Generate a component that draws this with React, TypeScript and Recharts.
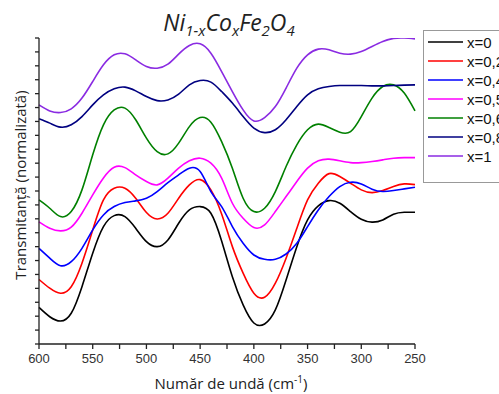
import { LineChart, Line, XAxis, YAxis, Label } from "recharts";

// numar de unda (cm-1), de la 600 la 250
const NUMAR_UNDA = [
  600, 590, 580, 570, 560, 550, 540, 530, 520, 510, 500, 490, 480, 470, 460, 450, 440, 430,
  420, 410, 400, 390, 380, 370, 360, 350, 340, 330, 320, 310, 300, 290, 280, 270, 260, 250,
];

// transmitanta normalizata (unitati arbitrare, deplasate pe verticala)
const X_0 = [
  2.63, 1.96, 1.65, 2.21, 4.12, 6.53, 8.44, 9.23, 9.16, 8.32, 7.36, 7.0, 7.48, 8.68, 9.64, 9.88, 9.4, 7.41,
  4.84, 2.81, 1.51, 1.44, 2.45, 4.6, 7.0, 8.92, 9.93, 10.31, 10.12, 9.52, 8.97, 8.76, 8.92, 9.33, 9.47, 9.47,
];
const X_02 = [
  4.64, 4.01, 3.65, 4.12, 5.81, 8.2, 10.36, 11.2, 11.2, 10.48, 9.45, 8.99, 9.4, 10.48, 11.44, 11.82, 11.08, 9.35,
  7.0, 5.09, 3.65, 3.36, 4.37, 6.17, 8.32, 10.36, 11.56, 12.25, 12.04, 11.56, 11.08, 10.88, 11.03, 11.32, 11.51, 11.46,
];
const X_04 = [
  6.88, 6.17, 5.63, 5.92, 6.88, 8.2, 9.28, 9.88, 10.17, 10.29, 10.48, 10.96, 11.6, 12.16, 12.64, 12.4, 10.96, 9.88,
  8.44, 7.24, 6.4, 6.09, 6.09, 6.47, 7.24, 8.44, 9.64, 10.6, 11.32, 11.63, 11.51, 11.13, 10.96, 11.03, 11.15, 11.27,
];
const X_05 = [
  8.78, 8.32, 8.13, 8.4, 9.4, 10.72, 11.94, 12.71, 12.68, 12.16, 11.68, 11.44, 11.92, 12.64, 13.17, 13.36, 13.0, 11.92,
  10.12, 9.04, 8.37, 8.56, 9.52, 10.6, 11.68, 12.64, 13.17, 13.29, 13.17, 13.04, 13.04, 13.12, 13.24, 13.36, 13.4, 13.4,
];
const X_06 = [
  10.36, 9.76, 9.16, 9.52, 11.08, 13.6, 15.76, 16.83, 16.96, 16.12, 14.8, 13.83, 13.67, 14.44, 15.63, 16.28, 15.95, 14.55,
  12.64, 10.48, 9.52, 9.76, 10.96, 12.76, 14.32, 15.4, 15.81, 15.56, 15.23, 15.27, 16.35, 17.68, 18.51, 18.63, 18.04, 16.76,
];
const X_08 = [
  16.19, 15.88, 15.59, 15.76, 16.35, 17.19, 17.91, 18.35, 18.47, 18.2, 17.79, 17.5, 17.55, 17.96, 18.63, 18.94, 18.83, 18.15,
  17.32, 16.35, 15.52, 15.2, 15.4, 16.12, 17.07, 17.91, 18.35, 18.51, 18.58, 18.58, 18.58, 18.56, 18.56, 18.58, 18.61, 18.63,
];
const X_1 = [
  17.19, 16.76, 16.64, 16.91, 17.68, 18.87, 20.07, 20.79, 20.86, 20.43, 19.95, 19.83, 20.12, 20.84, 21.46, 21.58, 20.91, 19.59,
  18.15, 16.83, 16.04, 16.28, 17.07, 18.4, 19.83, 20.79, 21.2, 21.15, 20.91, 20.84, 21.03, 21.39, 21.75, 21.97, 22.0, 21.94,
];

const SERII = [
  { key: "x0", nume: "x=0", culoare: "#000000", valori: X_0 },
  { key: "x02", nume: "x=0,2", culoare: "#ff0000", valori: X_02 },
  { key: "x04", nume: "x=0,4", culoare: "#0000ff", valori: X_04 },
  { key: "x05", nume: "x=0,5", culoare: "#ff00ff", valori: X_05 },
  { key: "x06", nume: "x=0,6", culoare: "#008000", valori: X_06 },
  { key: "x08", nume: "x=0,8", culoare: "#000080", valori: X_08 },
  { key: "x1", nume: "x=1", culoare: "#8a2be2", valori: X_1 },
];

const TICKS_X = [600, 575, 550, 525, 500, 475, 450, 425, 400, 375, 350, 325, 300, 275, 250];
const TICKS_Y = Array.from({ length: 23 }, (_, i) => i);

const date = NUMAR_UNDA.map((w, i) => {
  const rand: Record<string, number> = { w };
  SERII.forEach((s) => (rand[s.key] = s.valori[i]));
  return rand;
});

const FONT_TITLU = "'Open Sans', sans-serif";
const FONT_TICK = "'Liberation Sans', Arial, sans-serif";

function TitluX(props: any) {
  const vb = props.viewBox || { x: 39, y: 344, width: 376, height: 50 };
  const cx = vb.x + vb.width / 2 + 4;
  return (
    <text x={cx} y={389} textAnchor="middle" fontFamily={FONT_TITLU} fontSize={15} fill="#222">
      <tspan>Număr de undă (cm</tspan>
      <tspan dy={-6} fontSize={10}>-1</tspan>
      <tspan dy={6}>)</tspan>
    </text>
  );
}

function TitluY(props: any) {
  const vb = props.viewBox || { x: 0, y: 38, width: 39, height: 306 };
  const cx = 20;
  const cy = vb.y + vb.height / 2 - 6;
  return (
    <text
      x={cx}
      y={cy}
      transform={`rotate(-90 ${cx} ${cy})`}
      textAnchor="middle"
      dominantBaseline="central"
      fontFamily={FONT_TITLU}
      fontSize={15}
      fill="#222"
    >
      Transmitanță (normalizată)
    </text>
  );
}

function FaraEticheta() {
  return <g />;
}

export default function App() {
  return (
    <div
      style={{
        position: "absolute",
        left: 0,
        top: 0,
        width: 499,
        height: 394,
        overflow: "hidden",
        background: "#fff",
      }}
    >
      <LineChart
        width={499}
        height={394}
        data={date}
        margin={{ top: 38, right: 84, bottom: 0, left: 0 }}
      >
        <XAxis
          dataKey="w"
          type="number"
          domain={[250, 600]}
          reversed
          ticks={TICKS_X}
          interval={0}
          tickFormatter={(v: number) => (v % 50 === 0 ? String(v) : "")}
          height={50}
          stroke="#222"
          strokeWidth={1.3}
          tickSize={5}
          tickMargin={5}
          tick={{ fontFamily: FONT_TICK, fontSize: 13, fill: "#333" }}
        >
          <Label content={TitluX} />
        </XAxis>
        <YAxis
          type="number"
          domain={[0, 22]}
          allowDataOverflow
          ticks={TICKS_Y}
          interval={0}
          width={39}
          stroke="#222"
          strokeWidth={1.3}
          tickSize={4}
          tick={FaraEticheta}
        >
          <Label content={TitluY} />
        </YAxis>

        {SERII.map((s) => (
          <Line
            key={s.key}
            dataKey={s.key}
            name={s.nume}
            type="natural"
            stroke={s.culoare}
            strokeWidth={1.6}
            dot={false}
            activeDot={false}
            isAnimationActive={false}
          />
        ))}

        {/* TITLU */}
        <text x={229} y={31} textAnchor="middle" fontFamily={FONT_TITLU} fontStyle="italic" fontSize={23} fill="#222">
          <tspan>Ni</tspan>
          <tspan dy={5} fontSize={15}>1-x</tspan>
          <tspan dy={-5}>Co</tspan>
          <tspan dy={5} fontSize={15}>x</tspan>
          <tspan dy={-5}>Fe</tspan>
          <tspan dy={5} fontSize={15}>2</tspan>
          <tspan dy={-5}>O</tspan>
          <tspan dy={5} fontSize={15}>4</tspan>
        </text>

        {/* LEGENDA */}
        <g>
          <rect x={423.5} y={30.5} width={100} height={152} fill="#fff" stroke="#999" />
          {SERII.map((s, i) => {
            const y = 42 + i * 19;
            return (
              <g key={s.key}>
                <line x1={428} x2={463} y1={y} y2={y} stroke={s.culoare} strokeWidth={1.6} />
                <text x={467} y={y} dominantBaseline="central" fontFamily={FONT_TICK} fontSize={15} fill="#111">
                  {s.nume}
                </text>
              </g>
            );
          })}
        </g>
      </LineChart>
    </div>
  );
}
